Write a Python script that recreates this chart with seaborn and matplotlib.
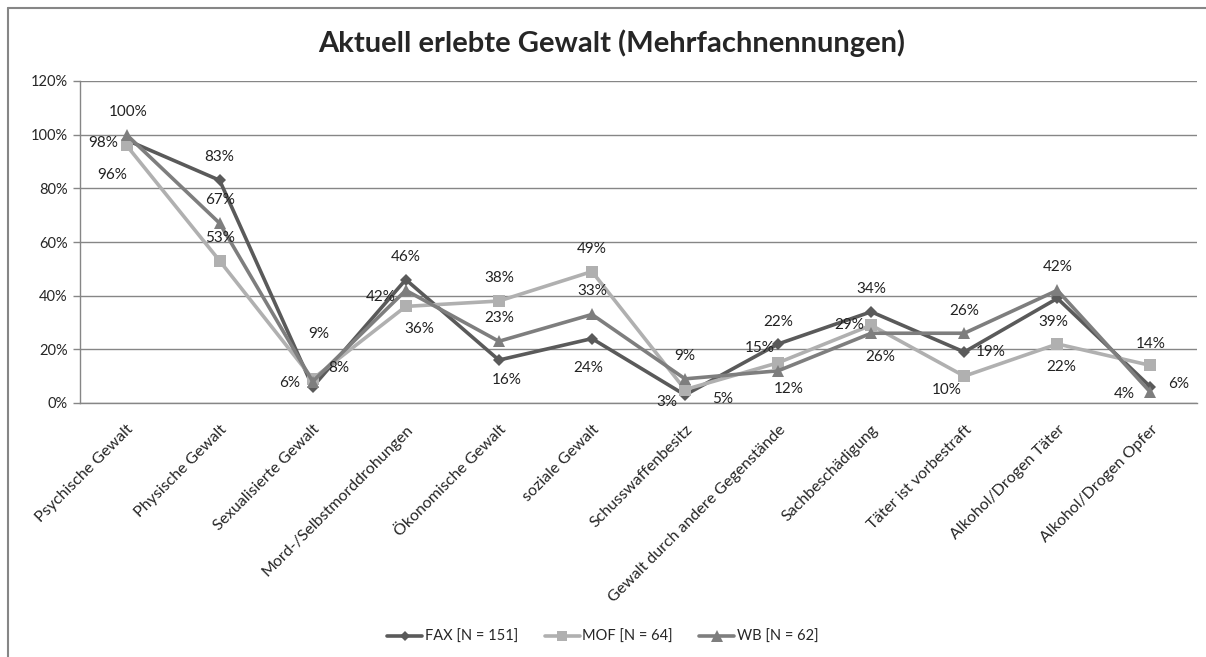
import pandas as pd
import matplotlib.pyplot as plt
import seaborn as sns
from matplotlib.lines import Line2D

# Daten
kategorien = ["Psychische Gewalt", "Physische Gewalt", "Sexualisierte Gewalt",
              "Mord-/Selbstmorddrohungen", "Ökonomische Gewalt", "soziale Gewalt",
              "Schusswaffenbesitz", "Gewalt durch andere Gegenstände", "Sachbeschädigung",
              "Täter ist vorbestraft", "Alkohol/Drogen Täter", "Alkohol/Drogen Opfer"]
fax = [98, 83, 6, 46, 16, 24, 3, 22, 34, 19, 39, 6]
mof = [96, 53, 9, 36, 38, 49, 5, 15, 29, 10, 22, 14]
wb = [100, 67, 8, 42, 23, 33, 9, 12, 26, 26, 42, 4]
serien = ["FAX [N = 151]", "MOF [N = 64]", "WB [N = 62]"]

df = pd.DataFrame({
    "Kategorie": kategorien * 3,
    "Wert": fax + mof + wb,
    "Serie": [serien[0]] * 12 + [serien[1]] * 12 + [serien[2]] * 12,
})

# Label-Versatz in Pixeln (dx, dy nach unten)
versatz = {
    serien[0]: [(-23, 3), (0, -23), (-23, -4), (0, -23), (8, 20), (-4, 29),
                (-18, 7), (0, -22), (0, -23), (26, 0), (-4, 24), (28, -3)],
    serien[1]: [(-14, 30), (0, -23), (6, -45), (14, 23), (0, -23), (0, -23),
                (38, 9), (-18, -15), (-22, 0), (-18, 14), (4, 23), (0, -21)],
    serien[2]: [(2, -23), (0, -23), (26, -14), (-25, 7), (0, -23), (0, -23),
                (0, -23), (11, 18), (9, 24), (0, -22), (0, -23), (-26, 2)],
}

farben = {serien[0]: "#5a5a5a", serien[1]: "#b0b0b0", serien[2]: "#7e7e7e"}
marker = {serien[0]: "D", serien[1]: "s", serien[2]: "^"}
groesse = {serien[0]: 6, serien[1]: 8, serien[2]: 9}

sns.set_style("white")
plt.rcParams["font.family"] = ["Lato", "DejaVu Sans"]

fig = plt.figure(figsize=(12.06, 6.57), dpi=100)
ax = fig.add_axes([80 / 1206, 1 - 403 / 657, 1117 / 1206, 322 / 657])

sns.lineplot(data=df, x="Kategorie", y="Wert", hue="Serie", style="Serie",
             palette=farben, markers=marker, dashes=False, linewidth=2.6,
             markeredgewidth=0, ax=ax, legend=False, sort=False)
for line, s in zip(ax.lines, serien):
    line.set_markersize(groesse[s])

for s, werte in zip(serien, [fax, mof, wb]):
    for i, v in enumerate(werte):
        dx, dy = versatz[s][i]
        ax.annotate(f"{v}%", (i, v), xytext=(dx, -dy), textcoords="offset pixels",
                    ha="center", va="center", fontsize=11, color="#222222")

ax.set_xlim(-0.5, len(kategorien) - 0.5)
ax.set_ylim(0, 120)
ax.set_yticks(range(0, 121, 20))
ax.set_yticklabels([f"{t}%" for t in range(0, 121, 20)], fontsize=10.5)
ax.set_xticks(range(len(kategorien)))
ax.set_xticklabels(kategorien, rotation=45, ha="right", rotation_mode="anchor", fontsize=11.5)
ax.set_xticks([i - 0.5 for i in range(len(kategorien) + 1)], minor=True)
ax.tick_params(axis="x", which="major", length=0, pad=14)
ax.tick_params(axis="x", which="minor", length=5, color="#868686", width=1)
ax.tick_params(axis="y", length=5, color="#868686", width=1, left=True, pad=4)
ax.grid(axis="y", color="#868686", linewidth=1)
ax.set_axisbelow(True)
ax.set_xlabel("")
ax.set_ylabel("")
for side in ["top", "right"]:
    ax.spines[side].set_visible(False)
for side in ["left", "bottom"]:
    ax.spines[side].set_color("#868686")
    ax.spines[side].set_linewidth(1)

fig.text(0.507, 1 - 43 / 657, "Aktuell erlebte Gewalt (Mehrfachnennungen)",
         ha="center", va="center", fontsize=21, fontweight="bold")

handles = [Line2D([], [], color=farben[s], marker=marker[s], markersize=groesse[s] - 1,
                  markeredgewidth=0, linewidth=2.6) for s in serien]
fig.legend(handles, serien, loc="center", bbox_to_anchor=(0.5, 1 - 637 / 657), ncol=3,
           frameon=False, fontsize=10.5, handlelength=2.4, columnspacing=1.8, handletextpad=0.2)

# Rahmen
fig.add_artist(Line2D([8 / 1206, 8 / 1206], [0, 1 - 8 / 657], transform=fig.transFigure,
                      color="#868686", linewidth=1.5))
fig.add_artist(Line2D([8 / 1206, 1], [1 - 8 / 657, 1 - 8 / 657], transform=fig.transFigure,
                      color="#868686", linewidth=1.5))

plt.savefig("out.png", dpi=100)
plt.close()
